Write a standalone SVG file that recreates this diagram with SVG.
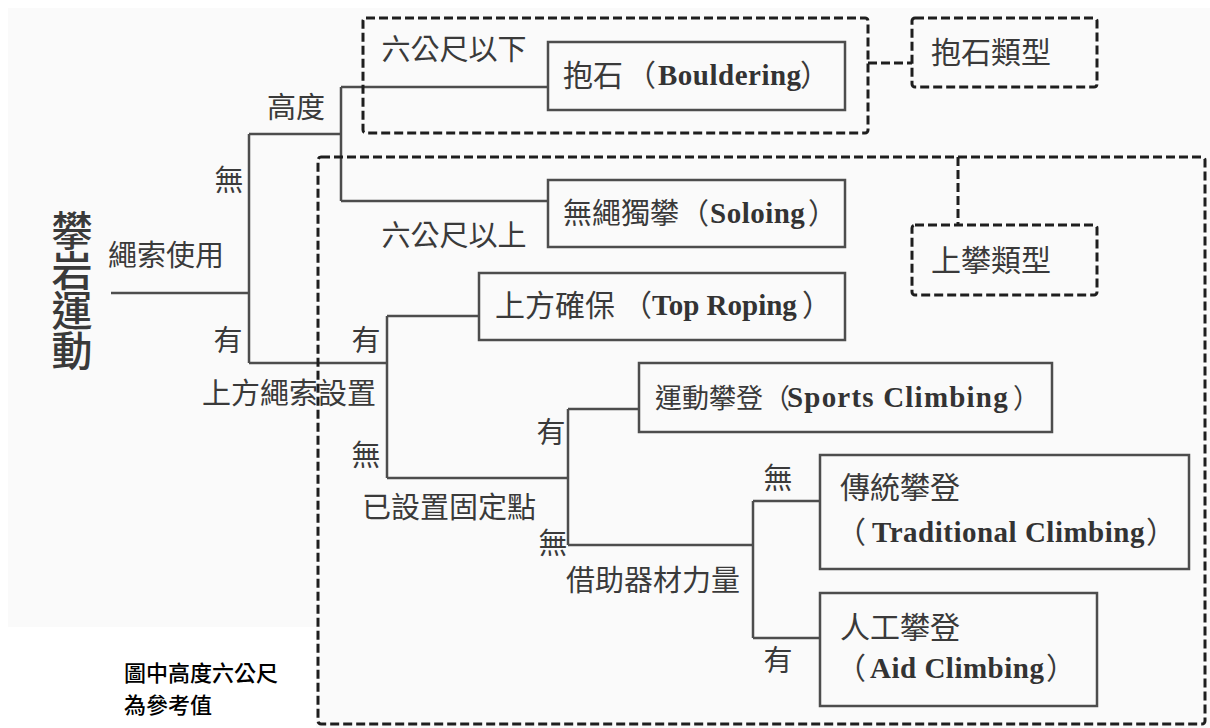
<svg xmlns="http://www.w3.org/2000/svg" width="1210" height="728" viewBox="0 0 1210 728">
<style>
.bg{fill:#fafafa}
.ln{fill:none;stroke:#4d4d4d;stroke-width:2.5}
.bx{fill:none;stroke:#4d4d4d;stroke-width:2.5}
.dsh{fill:none;stroke:#1e1e1e;stroke-width:3;stroke-dasharray:9 4}
.lb{font-family:"Noto Sans CJK TC","Noto Sans CJK SC",sans-serif;font-size:29px;fill:#3a3a3a;text-anchor:middle}
.cj{font-family:"Noto Sans CJK TC","Noto Sans CJK SC",sans-serif;font-size:30px;fill:#3a3a3a}
.la{font-family:"Liberation Serif",serif;font-weight:bold;font-size:29px;fill:#333;letter-spacing:0.5px}
.title{font-family:"Noto Sans CJK TC","Noto Sans CJK SC",sans-serif;font-size:41px;font-weight:500;fill:#3a3a3a;writing-mode:vertical-rl;text-orientation:upright;letter-spacing:-1px}
.note{font-family:"Noto Sans CJK TC","Noto Sans CJK SC",sans-serif;font-size:22px;font-weight:500;fill:#000}
</style>
<rect x="0" y="0" width="1210" height="728" fill="#ffffff"/>
<rect class="bg" x="8" y="8" width="1202" height="720"/>
<rect x="0" y="627" width="316" height="101" fill="#ffffff"/>

<g id="connectors">
  <path class="ln" d="M111 293 H249 M249 134 V363 M249 134 H341 M341 87 V201 M341 87 H548 M341 201 H548"/>
  <path class="ln" d="M249 363 H387 M387 316 V478 M387 316 H479 M387 478 H568"/>
  <path class="ln" d="M568 409 V545 M568 409 H639 M568 545 H753"/>
  <path class="ln" d="M753 501 V638 M753 501 H820 M753 638 H820"/>
</g>

<g id="labels">
  <text class="lb" x="454" y="60">六公尺以下</text>
  <text class="lb" x="296" y="118">高度</text>
  <text class="lb" x="229" y="191">無</text>
  <text class="lb" x="166" y="266">繩索使用</text>
  <text class="lb" x="228" y="351">有</text>
  <text class="lb" x="366" y="351">有</text>
  <text class="lb" x="289" y="404">上方繩索設置</text>
  <text class="lb" x="366" y="466">無</text>
  <text class="lb" x="454" y="246">六公尺以上</text>
  <text class="lb" x="449" y="518">已設置固定點</text>
  <text class="lb" x="551" y="443">有</text>
  <text class="lb" x="553" y="554">無</text>
  <text class="lb" x="653" y="591">借助器材力量</text>
  <text class="lb" x="778" y="489">無</text>
  <text class="lb" x="778" y="671">有</text>
</g>

<g id="root">
  <text class="title" x="72" y="210">攀岩運動</text>
</g>

<g id="bouldering">
  <rect class="bx" x="548" y="42" width="297" height="68"/>
  <text class="cj" y="86"><tspan x="563">抱石</tspan><tspan x="626">（</tspan><tspan class="la" x="658" y="85">Bouldering</tspan><tspan x="800" y="86">）</tspan></text>
</g>

<g id="soloing">
  <rect class="bx" x="548" y="180" width="297" height="67"/>
  <text class="cj" y="224" style="font-size:29px"><tspan x="563">無繩獨攀</tspan><tspan x="680">（</tspan><tspan class="la" x="710" y="223">Soloing</tspan><tspan x="808" y="224">）</tspan></text>
</g>

<g id="toproping">
  <rect class="bx" x="479" y="273" width="366" height="67"/>
  <text class="cj" y="316"><tspan x="495">上方確保</tspan><tspan x="622">（</tspan><tspan class="la" x="652" y="315" style="letter-spacing:0">Top Roping</tspan><tspan x="802" y="316">）</tspan></text>
</g>

<g id="sports">
  <rect class="bx" x="639" y="363" width="413" height="69"/>
  <text class="cj" y="408" style="font-size:27px"><tspan x="655">運動攀登</tspan><tspan x="763">（</tspan><tspan class="la" x="787" y="407" style="letter-spacing:1.2px">Sports Climbing</tspan><tspan x="1013" y="408">）</tspan></text>
</g>

<g id="traditional">
  <rect class="bx" x="820" y="455" width="369" height="114"/>
  <text class="cj" x="840" y="498">傳統攀登</text>
  <text class="cj" y="543"><tspan x="836">（</tspan><tspan class="la" x="872" y="542">Traditional Climbing</tspan><tspan x="1146" y="543">）</tspan></text>
</g>

<g id="aid">
  <rect class="bx" x="820" y="593" width="277" height="113"/>
  <text class="cj" x="840" y="638">人工攀登</text>
  <text class="cj" y="679"><tspan x="836">（</tspan><tspan class="la" x="870" y="678">Aid Climbing</tspan><tspan x="1046" y="679">）</tspan></text>
</g>

<g id="boulder-group">
  <rect class="dsh" x="363" y="18" width="505" height="115" rx="3"/>
</g>
<g id="toprope-group">
  <rect class="dsh" x="318" y="157" width="887" height="567" rx="3"/>
</g>
<g id="boulder-type">
  <rect class="dsh" x="912" y="18" width="185" height="69" rx="3"/>
  <text class="cj" x="931" y="63">抱石類型</text>
</g>
<g id="toprope-type">
  <rect class="dsh" x="912" y="225" width="185" height="70" rx="3"/>
  <text class="cj" x="931" y="271">上攀類型</text>
</g>
<g id="dashed-connectors">
  <path class="dsh" d="M868 63 H912 M958 157 V225"/>
</g>

<g id="note">
  <text class="note" x="124" y="681">圖中高度六公尺</text>
  <text class="note" x="124" y="713">為參考值</text>
</g>
</svg>
